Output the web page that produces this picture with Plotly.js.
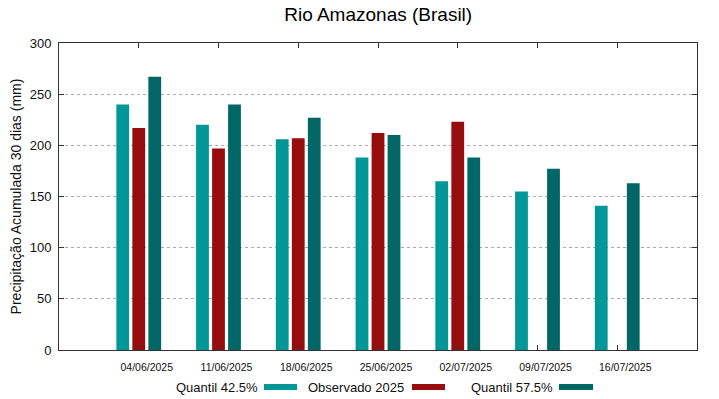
<!DOCTYPE html>
<html>
<head>
<meta charset="utf-8">
<script src="https://cdn.plot.ly/plotly-3.0.1.min.js"></script>
<style>html,body{margin:0;padding:0;background:#fff;}#chart{width:719px;height:399px;}</style>
</head>
<body>
<div id="chart"></div>
<script>
const categories = ["04/06/2025","11/06/2025","18/06/2025","25/06/2025","02/07/2025","09/07/2025","16/07/2025"];
const quantil425 = [240, 220, 206, 188, 165, 155, 141];
const observado2025 = [217, 197, 207, 212, 223, null, null];
const quantil575 = [267, 240, 227, 210, 188, 177, 163];
const seriesNames = ["Quantil 42.5%", "Observado 2025", "Quantil 57.5%"];
const seriesColors = ["#009796", "#970D0E", "#006766"];
const yTicks = [0, 50, 100, 150, 200, 250, 300];

const seriesValues = [quantil425, observado2025, quantil575];
const traces = seriesValues.map((vals, i) => ({
  type: "bar",
  x: categories,
  y: vals,
  name: seriesNames[i],
  marker: {color: seriesColors[i], line: {width: 0}},
  hoverinfo: "x+y+name"
}));

const font = "Liberation Sans, Arial, sans-serif";
const legendY = 387;
const legendItems = [
  {text: seriesNames[0], textRight: 260, sw: [264, 297]},
  {text: seriesNames[1], textRight: 406, sw: [412, 445]},
  {text: seriesNames[2], textRight: 555, sw: [559, 593]}
];
const W = 719, H = 399;
const annotations = legendItems.map(it => ({
  xref: "paper", yref: "paper",
  x: (it.textRight - 59) / (697 - 59), y: (350 - legendY) / (350 - 43),
  xanchor: "right", yanchor: "middle", showarrow: false,
  text: it.text, font: {family: font, size: 13, color: "#111"}
}));
const shapes = legendItems.map((it, i) => ({
  type: "line", xref: "paper", yref: "paper",
  x0: (it.sw[0] - 59) / (697 - 59), x1: (it.sw[1] - 59) / (697 - 59),
  y0: (350 - legendY) / (350 - 43), y1: (350 - legendY) / (350 - 43),
  line: {color: seriesColors[i], width: 6}
}));

const layout = {
  width: W, height: H,
  margin: {l: 59, r: 22, t: 43, b: 49},
  paper_bgcolor: "#fff", plot_bgcolor: "#fff",
  title: {text: "Rio Amazonas (Brasil)", font: {family: font, size: 19, color: "#000"}, x: 0.526, xanchor: "center", y: 0.963, yanchor: "middle"},
  barmode: "group",
  bargap: 0.398,
  bargroupgap: 0.2,
  showlegend: false,
  xaxis: {
    type: "category",
    range: [-1, 7],
    showline: true, linecolor: "#333", linewidth: 1, mirror: "ticks",
    ticks: "inside", ticklen: 5, tickcolor: "#333",
    showgrid: false,
    tickfont: {family: font, size: 10.5, color: "#111"},
    ticklabelshift: 8,
    ticklabelstandoff: 7
  },
  yaxis: {
    range: [0, 300],
    tickvals: yTicks,
    showline: true, linecolor: "#333", linewidth: 1, mirror: "ticks",
    ticks: "inside", ticklen: 5, tickcolor: "#333",
    showgrid: true, gridcolor: "#aaa", griddash: "dot", gridwidth: 1,
    zeroline: false,
    tickfont: {family: font, size: 13, color: "#111"},
    ticklabelstandoff: 4,
    title: {text: "Precipitação Acumulada 30 dias (mm)", font: {family: font, size: 14, color: "#111"}, standoff: 4}
  },
  annotations: annotations,
  shapes: shapes
};

Plotly.newPlot("chart", traces, layout, {displayModeBar: false, staticPlot: true});
</script>
</body>
</html>
